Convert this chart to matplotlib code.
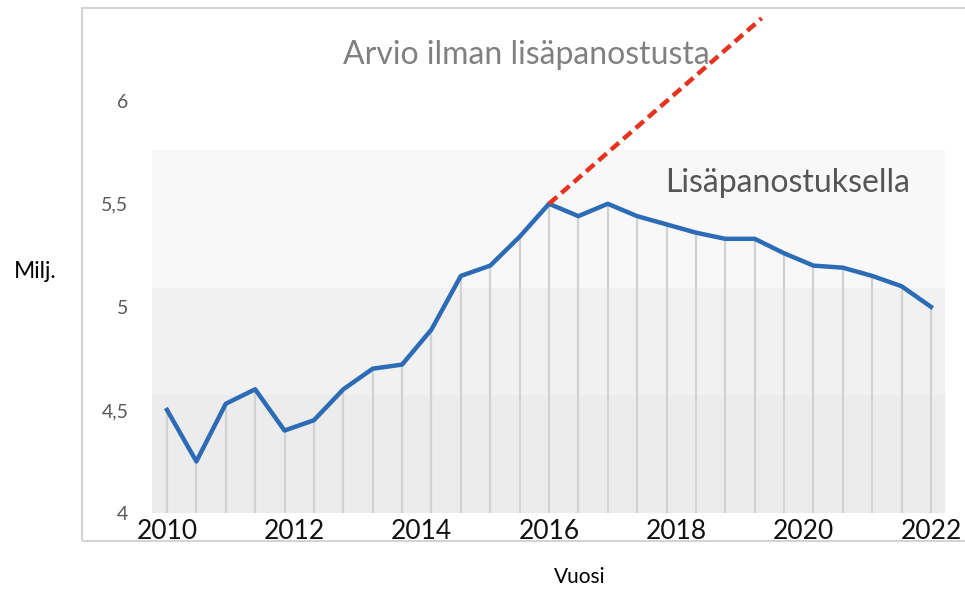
import numpy as np
import matplotlib.pyplot as plt
from matplotlib.patches import Rectangle

plt.rcParams['font.family'] = ['Lato', 'DejaVu Sans']

# half-yearly estimate, 27 points 2010..2022 (millions)
values = [4.50, 4.25, 4.53, 4.60, 4.40, 4.45, 4.60, 4.70, 4.72, 4.89,
          5.15, 5.20, 5.34, 5.50, 5.44, 5.50, 5.44, 5.40, 5.36, 5.33,
          5.33, 5.26, 5.20, 5.19, 5.15, 5.10, 5.00]
years = np.linspace(2010, 2022, len(values))

# trend without extra investment
trend_x = [2016, 2019.34]
trend_y = [5.50, 6.40]

# background bands (lower, upper, colour)
bands = [(4.0, 4.57, '#ececec'), (4.57, 5.09, '#f1f1f1'), (5.09, 5.76, '#f8f8f8')]

yticks = [4, 4.5, 5, 5.5, 6]
ytick_labels = ['4', '4,5', '5', '5,5', '6']
xticks = [2010, 2012, 2014, 2016, 2018, 2020, 2022]

fig = plt.figure(figsize=(9.65, 5.89), dpi=100)
ax = fig.add_axes([152/965, 76/589, 793/965, 503/589])

for lo, hi, c in bands:
    ax.axhspan(lo, hi, color=c, lw=0, zorder=0)

ax.vlines(years, 4.0, values, color='#d2d2d2', lw=1.6, zorder=1)
ax.plot(years, values, color='#2c6bb5', lw=3.2, zorder=3, solid_joinstyle='round')
ax.plot(trend_x, trend_y, color='#e5331f', lw=3.2, ls=(0, (2.4, 1.3)), zorder=4)

ax.set_xlim(2010 - 15/63.67, 2022 + 14/63.67)
ax.set_ylim(4.0, 6.44)
ax.set_xticks(xticks)
ax.set_xticklabels([str(x) for x in xticks], fontsize=19, color='#111111')
ax.set_yticks(yticks)
ax.set_yticklabels(ytick_labels, fontsize=14, color='#595959')
ax.tick_params(axis='x', length=0, pad=4)
ax.tick_params(axis='y', length=0, pad=17)
for s in ax.spines.values():
    s.set_visible(False)

ax.text(2015.65, 6.22, 'Arvio ilman lisäpanostusta', fontsize=23,
        color='#808080', ha='center', va='center')
ax.text(2019.75, 5.60, 'Lisäpanostuksella', fontsize=23,
        color='#555555', ha='center', va='center')

# outer chart frame
fig.patches.append(Rectangle((82/965, 48/589), 0.99, 533/589, transform=fig.transFigure,
                             fill=False, ec='#d4d4d4', lw=1.5))

fig.text(35/965, 1 - 272/589, 'Milj.', fontsize=16.5, ha='center', va='center')
fig.text(580/965, 1 - 577/589, 'Vuosi', fontsize=15, ha='center', va='center')

plt.savefig('out.png', dpi=100)
